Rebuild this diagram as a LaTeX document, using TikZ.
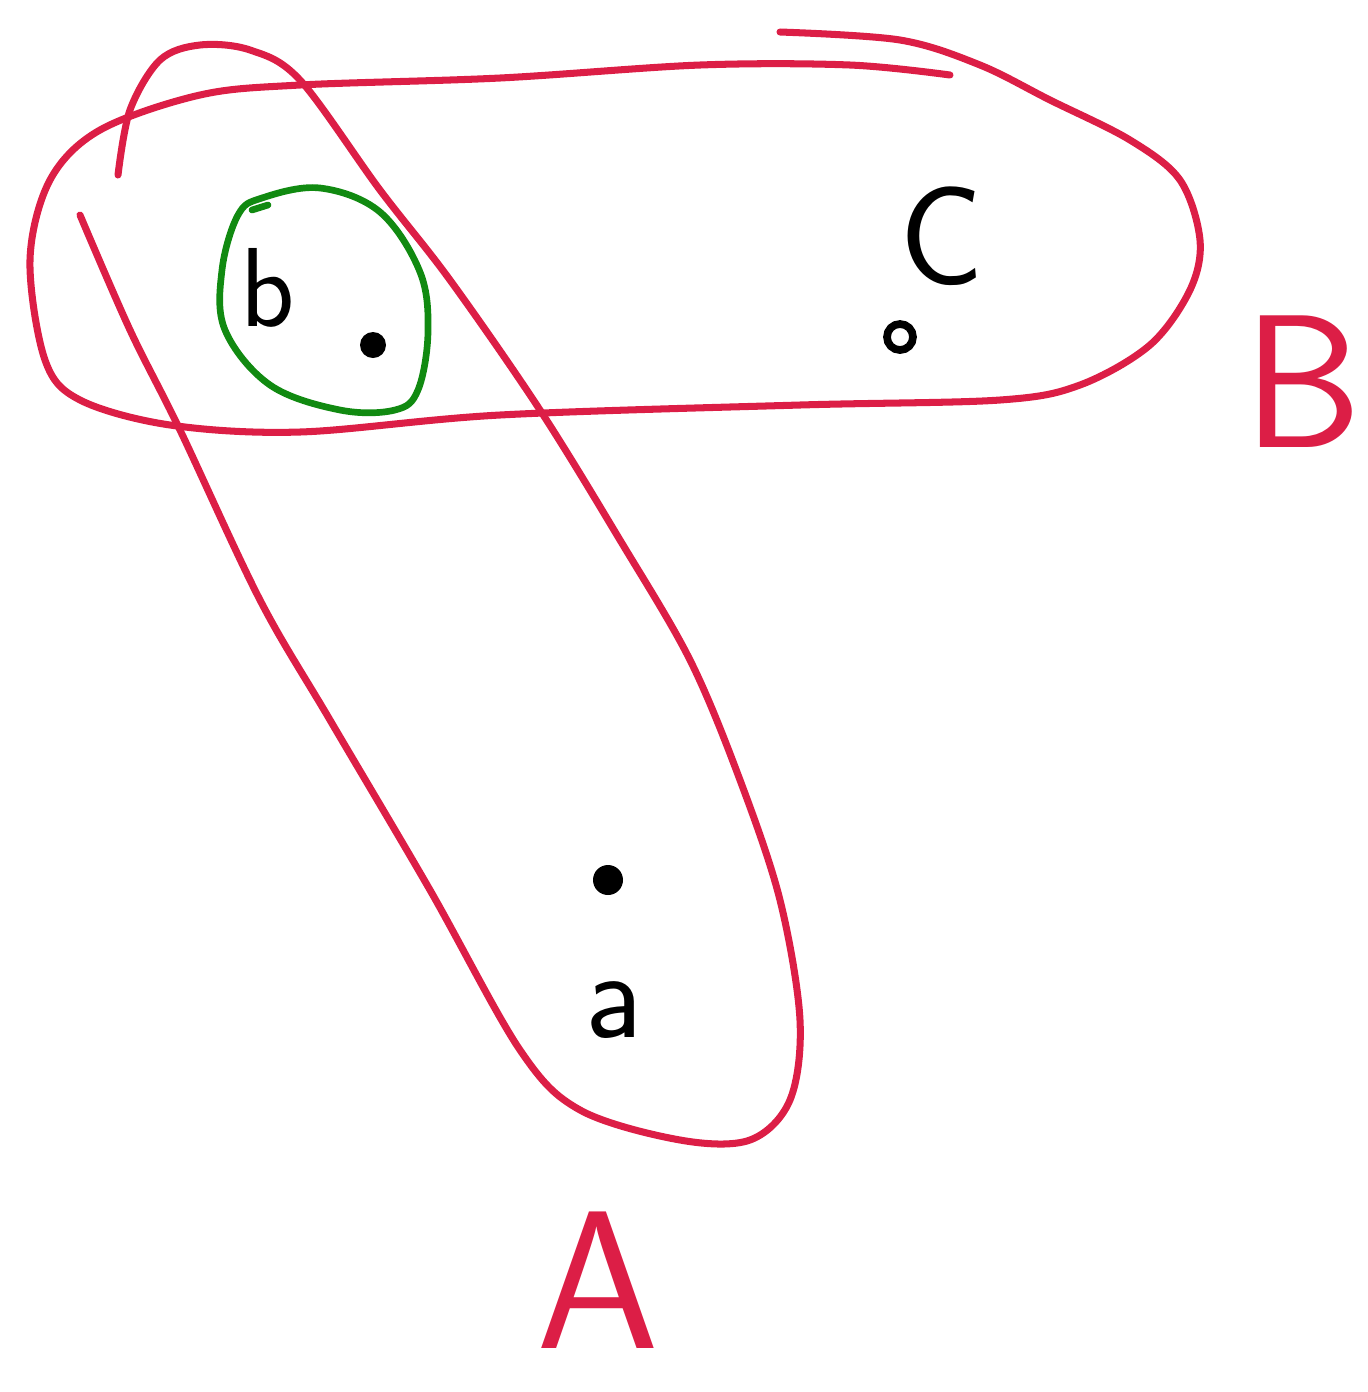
\documentclass[tikz,border=0pt]{standalone}
\usepackage{tikz}
\usetikzlibrary{positioning}
\definecolor{setred}{HTML}{DC1E46}
\definecolor{subgreen}{HTML}{118A11}
\tikzset{
  setline/.style={draw=setred, line width=2pt, line cap=round, line join=round},
  subline/.style={draw=subgreen, line width=1.9pt, line cap=round, line join=round},
  elem/.style={font=\sffamily\fontsize{32}{32}\selectfont, text=black, inner sep=0pt},
  setname/.style={font=\sffamily\fontsize{54}{54}\selectfont, text=setred, inner sep=0pt},
  pt/.style={circle, fill=black, inner sep=0pt, minimum size=2.6mm}
}
\begin{document}
\begin{tikzpicture}[x=0.1mm, y=-0.1mm]
\useasboundingbox (0,0) rectangle (1368,1392);
% set A
\draw[setline] plot[smooth, tension=0.55] coordinates {
  (80,215) (130,330) (180,430) (260,600) (330,720) (430,890) (520,1050)
  (580,1110) (680,1140) (750,1140) (790,1100) (800,1020) (780,900)
  (740,780) (690,660) (620,540) (540,410) (450,280) (380,190) (300,80)
  (250,50) (200,45) (160,60) (130,110) (118,175)};
% set B
\draw[setline] plot[smooth, tension=0.55] coordinates {
  (950,75) (850,65) (700,65) (500,78) (300,85) (200,95) (100,130)
  (50,180) (30,260) (45,360) (80,400) (170,425) (300,432) (500,415)
  (800,405) (1000,400) (1080,385) (1150,345) (1190,290) (1200,240)
  (1180,180) (1130,140) (1050,100) (980,65) (900,40) (780,32)};
% subset of A and B
\draw[subline] plot[smooth cycle, tension=0.6] coordinates {
  (262,198) (320,188) (380,212) (420,272) (428,332) (418,390)
  (395,410) (340,410) (270,385) (225,330) (222,270) (238,215)};
\draw[subline] (252,210) -- (268,205);
% elements
\node[pt] (dotb) at (373,345) {};
\node[circle, draw=black, line width=2.2pt, inner sep=0pt, minimum size=2.6mm] (dotc) at (900,337) {};
\node[pt, minimum size=3mm] (dota) at (608,880) {};
\node[elem] (lb) at (268,288) {b};
\node[elem, font=\sffamily\fontsize{40}{40}\selectfont] (lc) at (942,236) {C};
\node[elem, font=\sffamily\fontsize{36}{36}\selectfont] (la) at (614,1010) {a};
\node[setname] (lB) at (1303,382) {B};
\node[setname, font=\sffamily\fontsize{56}{56}\selectfont] (lA) at (598,1280) {A};
\end{tikzpicture}
\end{document}
